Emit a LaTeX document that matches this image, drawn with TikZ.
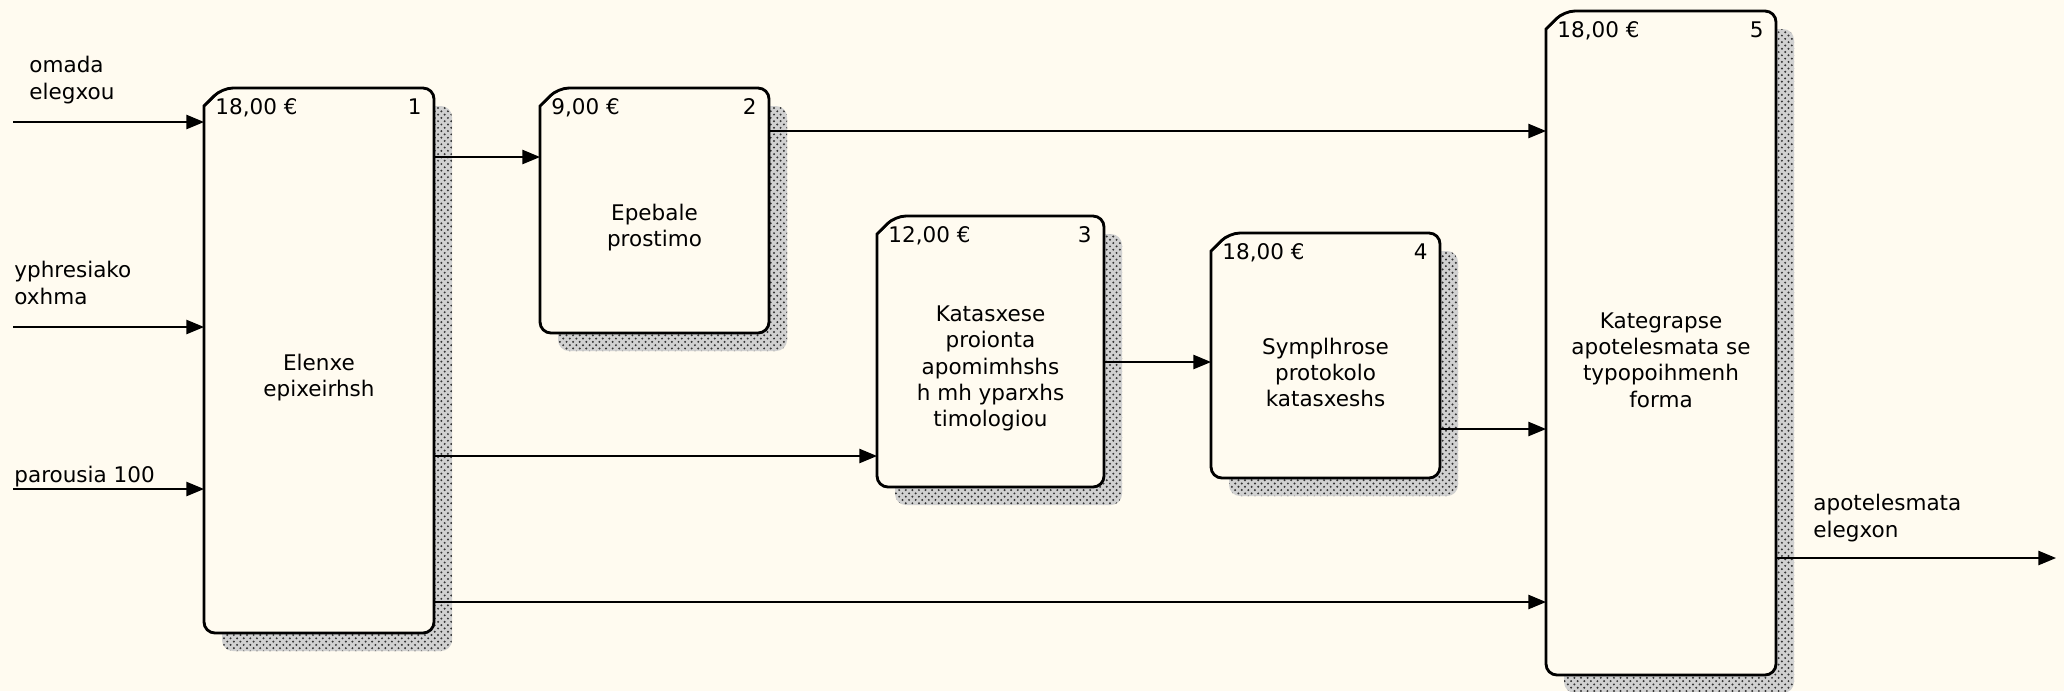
\documentclass[tikz,border=0pt]{standalone}
\usepackage{fontspec}
\setmainfont{DejaVu Sans}
\usepackage{xcolor}
\usetikzlibrary{arrows.meta, fit, patterns}

\definecolor{paper}{HTML}{FFFBF0}

% one activity box: shadow, outline with the folded corner, cost, number, name
\newcommand{\actbox}[4]{%
    \fill[shade, rounded corners=5pt] ([shift={(18,18)}]#1.north west) rectangle ([shift={(18,18)}]#1.south east);
    \draw[rim] ([shift={(0,18)}]#1.north west) [rounded corners=5pt] -- (#1.south west) -- (#1.south east) -- (#1.north east) -- ([shift={(18,0)}]#1.north west) [sharp corners] -- cycle;
    \draw[line width=0.5pt] ([shift={(4,15)}]#1.north west) -- ([shift={(15,4)}]#1.north west);
    \node[txt, anchor=base west] (#1c) at ([shift={(11,26)}]#1.north west) {#2};
    \node[txt, anchor=base east] (#1n) at ([shift={(-12,26)}]#1.north east) {#3};
    \node[txt, align=center] (#1t) at ([shift={(0,17)}]#1.center) {#4};
}

\begin{document}
\begin{tikzpicture}[x=0.016cm, y=-0.016cm, >={Triangle[length=8pt, width=6.5pt]},
    txt/.style={font=\fontsize{9.8}{12}\selectfont, inner sep=0pt},
    act/.style={inner sep=0pt, outer sep=0pt},
    rim/.style={line width=1.3pt, fill=paper},
    shade/.style={preaction={fill=black!18}, pattern=crosshatch dots, pattern color=black!80},
    flow/.style={->, line width=0.6pt}]

    % =================================================================
    % 1. KHUNG NỀN
    % =================================================================
    \fill[paper] (0,0) rectangle (2064,691);
    \useasboundingbox (0,0) rectangle (2064,691);

    % =================================================================
    % 2. CÁC HỘP HOẠT ĐỘNG
    % =================================================================
    \node[act, fit={(204,88) (434,633)}] (b1) {};
    \node[act, fit={(540,88) (769,333)}] (b2) {};
    \node[act, fit={(877,216) (1104,487)}] (b3) {};
    \node[act, fit={(1211,233) (1440,478)}] (b4) {};
    \node[act, fit={(1546,11) (1776,675)}] (b5) {};

    \actbox{b1}{18,00 €}{1}{Elenxe\\epixeirhsh}
    \actbox{b2}{9,00 €}{2}{Epebale\\prostimo}
    \actbox{b3}{12,00 €}{3}{Katasxese\\proionta\\apomimhshs\\h mh yparxhs\\timologiou}
    \actbox{b4}{18,00 €}{4}{Symplhrose\\protokolo\\katasxeshs}
    \actbox{b5}{18,00 €}{5}{Kategrapse\\apotelesmata se\\typopoihmenh\\forma}

    % =================================================================
    % 3. CÁC MŨI TÊN
    % =================================================================
    \coordinate (in1) at (13,122);
    \coordinate (in2) at (13,327);
    \coordinate (in3) at (13,489);
    \coordinate (out) at (2056,558);

    % đầu vào
    \draw[flow] (in1) -- (in1 -| b1.west);
    \draw[flow] (in2) -- (in2 -| b1.west);
    \draw[flow] (in3) -- (in3 -| b1.west);

    % giữa các hộp
    \draw[flow] (b1.east |- 0,157) -- (b2.west |- 0,157);
    \draw[flow] (b1.east |- 0,456) -- (b3.west |- 0,456);
    \draw[flow] (b1.east |- 0,602) -- (b5.west |- 0,602);
    \draw[flow] (b2.east |- 0,131) -- (b5.west |- 0,131);
    \draw[flow] (b3.east |- 0,362) -- (b4.west |- 0,362);
    \draw[flow] (b4.east |- 0,429) -- (b5.west |- 0,429);

    % đầu ra
    \draw[flow] (b5.east |- out) -- (out);

    % =================================================================
    % 4. NHÃN
    % =================================================================
    \node[txt, anchor=north west, align=left] (l1) at (29,56) {omada\\elegxou};
    \node[txt, anchor=north west, align=left] (l2) at (14,261) {yphresiako\\oxhma};
    \node[txt, anchor=base west] (l3) at (14,482) {parousia 100};
    \node[txt, anchor=north west, align=left] (l4) at (1813,494) {apotelesmata\\elegxon};

\end{tikzpicture}
\end{document}
